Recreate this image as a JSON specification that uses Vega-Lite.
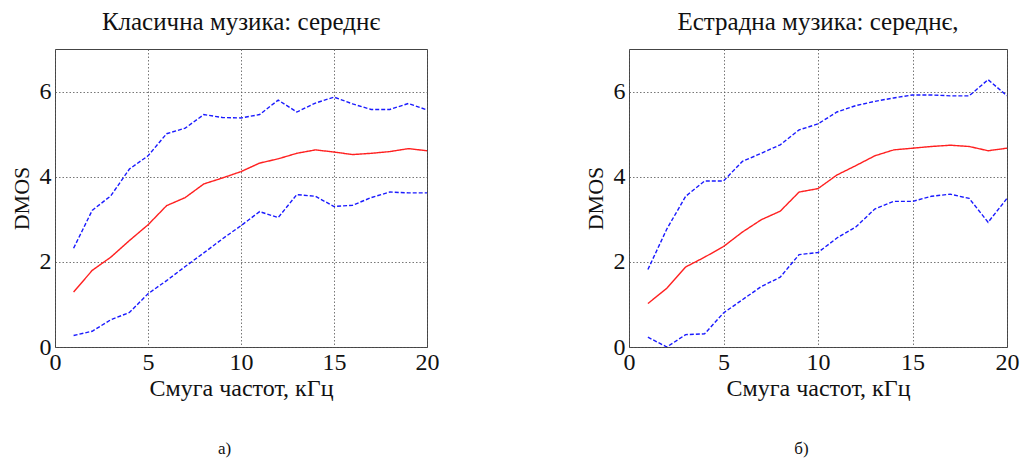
{
  "$schema": "https://vega.github.io/schema/vega-lite/v6.json",
  "background": "white",
  "padding": {"left": 9, "top": 9, "right": 0, "bottom": 3},
  "config": {
    "font": "Liberation Serif",
    "view": {"stroke": "#444444", "strokeWidth": 1},
    "axis": {
      "grid": true, "gridColor": "#555555", "gridDash": [1.5, 2], "gridOpacity": 0.8, "gridWidth": 1,
      "domain": false, "ticks": false, "labelFlush": false,
      "labelFont": "Liberation Serif", "labelFontSize": 24, "labelColor": "#111111",
      "titleFont": "Liberation Serif", "titleFontSize": 24, "titleFontWeight": "normal", "titleColor": "#111111"
    },
    "title": {"font": "Liberation Serif", "fontSize": 25, "fontWeight": "normal", "color": "#111111", "anchor": "middle"},
    "concat": {"spacing": 143}
  },
  "datasets": {
    "d": [
      {"panel": "a", "series": "upper", "x": 1, "y": 2.32}, {"panel": "a", "series": "upper", "x": 2, "y": 3.21}, {"panel": "a", "series": "upper", "x": 3, "y": 3.55}, {"panel": "a", "series": "upper", "x": 4, "y": 4.18}, {"panel": "a", "series": "upper", "x": 5, "y": 4.49}, {"panel": "a", "series": "upper", "x": 6, "y": 5.01}, {"panel": "a", "series": "upper", "x": 7, "y": 5.14}, {"panel": "a", "series": "upper", "x": 8, "y": 5.46}, {"panel": "a", "series": "upper", "x": 9, "y": 5.39}, {"panel": "a", "series": "upper", "x": 10, "y": 5.38}, {"panel": "a", "series": "upper", "x": 11, "y": 5.46}, {"panel": "a", "series": "upper", "x": 12, "y": 5.80}, {"panel": "a", "series": "upper", "x": 13, "y": 5.52}, {"panel": "a", "series": "upper", "x": 14, "y": 5.73}, {"panel": "a", "series": "upper", "x": 15, "y": 5.87}, {"panel": "a", "series": "upper", "x": 16, "y": 5.71}, {"panel": "a", "series": "upper", "x": 17, "y": 5.58}, {"panel": "a", "series": "upper", "x": 18, "y": 5.58}, {"panel": "a", "series": "upper", "x": 19, "y": 5.72}, {"panel": "a", "series": "upper", "x": 20, "y": 5.57},
      {"panel": "a", "series": "mean", "x": 1, "y": 1.29}, {"panel": "a", "series": "mean", "x": 2, "y": 1.80}, {"panel": "a", "series": "mean", "x": 3, "y": 2.11}, {"panel": "a", "series": "mean", "x": 4, "y": 2.50}, {"panel": "a", "series": "mean", "x": 5, "y": 2.87}, {"panel": "a", "series": "mean", "x": 6, "y": 3.32}, {"panel": "a", "series": "mean", "x": 7, "y": 3.51}, {"panel": "a", "series": "mean", "x": 8, "y": 3.83}, {"panel": "a", "series": "mean", "x": 9, "y": 3.97}, {"panel": "a", "series": "mean", "x": 10, "y": 4.12}, {"panel": "a", "series": "mean", "x": 11, "y": 4.32}, {"panel": "a", "series": "mean", "x": 12, "y": 4.42}, {"panel": "a", "series": "mean", "x": 13, "y": 4.55}, {"panel": "a", "series": "mean", "x": 14, "y": 4.63}, {"panel": "a", "series": "mean", "x": 15, "y": 4.58}, {"panel": "a", "series": "mean", "x": 16, "y": 4.52}, {"panel": "a", "series": "mean", "x": 17, "y": 4.55}, {"panel": "a", "series": "mean", "x": 18, "y": 4.59}, {"panel": "a", "series": "mean", "x": 19, "y": 4.66}, {"panel": "a", "series": "mean", "x": 20, "y": 4.61},
      {"panel": "a", "series": "lower", "x": 1, "y": 0.27}, {"panel": "a", "series": "lower", "x": 2, "y": 0.37}, {"panel": "a", "series": "lower", "x": 3, "y": 0.64}, {"panel": "a", "series": "lower", "x": 4, "y": 0.81}, {"panel": "a", "series": "lower", "x": 5, "y": 1.25}, {"panel": "a", "series": "lower", "x": 6, "y": 1.56}, {"panel": "a", "series": "lower", "x": 7, "y": 1.89}, {"panel": "a", "series": "lower", "x": 8, "y": 2.21}, {"panel": "a", "series": "lower", "x": 9, "y": 2.54}, {"panel": "a", "series": "lower", "x": 10, "y": 2.85}, {"panel": "a", "series": "lower", "x": 11, "y": 3.18}, {"panel": "a", "series": "lower", "x": 12, "y": 3.04}, {"panel": "a", "series": "lower", "x": 13, "y": 3.58}, {"panel": "a", "series": "lower", "x": 14, "y": 3.54}, {"panel": "a", "series": "lower", "x": 15, "y": 3.30}, {"panel": "a", "series": "lower", "x": 16, "y": 3.33}, {"panel": "a", "series": "lower", "x": 17, "y": 3.51}, {"panel": "a", "series": "lower", "x": 18, "y": 3.64}, {"panel": "a", "series": "lower", "x": 19, "y": 3.62}, {"panel": "a", "series": "lower", "x": 20, "y": 3.62},
      {"panel": "b", "series": "upper", "x": 1, "y": 1.82}, {"panel": "b", "series": "upper", "x": 2, "y": 2.77}, {"panel": "b", "series": "upper", "x": 3, "y": 3.54}, {"panel": "b", "series": "upper", "x": 4, "y": 3.90}, {"panel": "b", "series": "upper", "x": 5, "y": 3.90}, {"panel": "b", "series": "upper", "x": 6, "y": 4.36}, {"panel": "b", "series": "upper", "x": 7, "y": 4.55}, {"panel": "b", "series": "upper", "x": 8, "y": 4.75}, {"panel": "b", "series": "upper", "x": 9, "y": 5.10}, {"panel": "b", "series": "upper", "x": 10, "y": 5.24}, {"panel": "b", "series": "upper", "x": 11, "y": 5.52}, {"panel": "b", "series": "upper", "x": 12, "y": 5.67}, {"panel": "b", "series": "upper", "x": 13, "y": 5.77}, {"panel": "b", "series": "upper", "x": 14, "y": 5.85}, {"panel": "b", "series": "upper", "x": 15, "y": 5.92}, {"panel": "b", "series": "upper", "x": 16, "y": 5.92}, {"panel": "b", "series": "upper", "x": 17, "y": 5.90}, {"panel": "b", "series": "upper", "x": 18, "y": 5.90}, {"panel": "b", "series": "upper", "x": 19, "y": 6.28}, {"panel": "b", "series": "upper", "x": 20, "y": 5.90},
      {"panel": "b", "series": "mean", "x": 1, "y": 1.02}, {"panel": "b", "series": "mean", "x": 2, "y": 1.38}, {"panel": "b", "series": "mean", "x": 3, "y": 1.88}, {"panel": "b", "series": "mean", "x": 4, "y": 2.11}, {"panel": "b", "series": "mean", "x": 5, "y": 2.36}, {"panel": "b", "series": "mean", "x": 6, "y": 2.70}, {"panel": "b", "series": "mean", "x": 7, "y": 2.99}, {"panel": "b", "series": "mean", "x": 8, "y": 3.19}, {"panel": "b", "series": "mean", "x": 9, "y": 3.64}, {"panel": "b", "series": "mean", "x": 10, "y": 3.72}, {"panel": "b", "series": "mean", "x": 11, "y": 4.04}, {"panel": "b", "series": "mean", "x": 12, "y": 4.26}, {"panel": "b", "series": "mean", "x": 13, "y": 4.49}, {"panel": "b", "series": "mean", "x": 14, "y": 4.63}, {"panel": "b", "series": "mean", "x": 15, "y": 4.67}, {"panel": "b", "series": "mean", "x": 16, "y": 4.71}, {"panel": "b", "series": "mean", "x": 17, "y": 4.74}, {"panel": "b", "series": "mean", "x": 18, "y": 4.71}, {"panel": "b", "series": "mean", "x": 19, "y": 4.61}, {"panel": "b", "series": "mean", "x": 20, "y": 4.67},
      {"panel": "b", "series": "lower", "x": 1, "y": 0.23}, {"panel": "b", "series": "lower", "x": 2, "y": 0.0}, {"panel": "b", "series": "lower", "x": 3, "y": 0.29}, {"panel": "b", "series": "lower", "x": 4, "y": 0.31}, {"panel": "b", "series": "lower", "x": 5, "y": 0.80}, {"panel": "b", "series": "lower", "x": 6, "y": 1.11}, {"panel": "b", "series": "lower", "x": 7, "y": 1.42}, {"panel": "b", "series": "lower", "x": 8, "y": 1.64}, {"panel": "b", "series": "lower", "x": 9, "y": 2.17}, {"panel": "b", "series": "lower", "x": 10, "y": 2.22}, {"panel": "b", "series": "lower", "x": 11, "y": 2.56}, {"panel": "b", "series": "lower", "x": 12, "y": 2.82}, {"panel": "b", "series": "lower", "x": 13, "y": 3.24}, {"panel": "b", "series": "lower", "x": 14, "y": 3.42}, {"panel": "b", "series": "lower", "x": 15, "y": 3.42}, {"panel": "b", "series": "lower", "x": 16, "y": 3.54}, {"panel": "b", "series": "lower", "x": 17, "y": 3.59}, {"panel": "b", "series": "lower", "x": 18, "y": 3.49}, {"panel": "b", "series": "lower", "x": 19, "y": 2.93}, {"panel": "b", "series": "lower", "x": 20, "y": 3.49}
    ]
  },
  "hconcat": [
    {
      "title": {"text": "а)", "orient": "bottom", "fontSize": 17, "offset": 40},
      "vconcat": [
        {
          "title": {"text": "Класична музика: середнє", "offset": 14},
          "width": 372, "height": 298,
          "data": {"name": "d"},
          "transform": [{"filter": "datum.panel === 'a'"}],
          "mark": {"type": "line", "strokeWidth": 1.4, "clip": true},
          "encoding": {
            "x": {"field": "x", "type": "quantitative", "scale": {"domain": [0, 20], "nice": false}, "axis": {"values": [0, 5, 10, 15, 20], "title": "Смуга частот, кГц", "labelPadding": 3, "titlePadding": 2}},
            "y": {"field": "y", "type": "quantitative", "scale": {"domain": [0, 7], "nice": false}, "axis": {"values": [0, 2, 4, 6], "title": "DMOS", "labelPadding": 4, "titlePadding": 6, "titleFontSize": 22}},
            "detail": {"field": "series"},
            "color": {"field": "series", "type": "nominal", "scale": {"domain": ["upper", "mean", "lower"], "range": ["#1a1aff", "#ff2020", "#1a1aff"]}, "legend": null},
            "strokeDash": {"field": "series", "type": "nominal", "scale": {"domain": ["upper", "mean", "lower"], "range": [[4, 2], [1, 0], [4, 2]]}, "legend": null}
          }
        }
      ]
    },
    {
      "title": {"text": "б)", "orient": "bottom", "fontSize": 17, "offset": 40},
      "vconcat": [
        {
          "title": {"text": "Естрадна музика: середнє,", "offset": 14},
          "width": 378, "height": 298,
          "data": {"name": "d"},
          "transform": [{"filter": "datum.panel === 'b'"}],
          "mark": {"type": "line", "strokeWidth": 1.4, "clip": true},
          "encoding": {
            "x": {"field": "x", "type": "quantitative", "scale": {"domain": [0, 20], "nice": false}, "axis": {"values": [0, 5, 10, 15, 20], "title": "Смуга частот, кГц", "labelPadding": 3, "titlePadding": 2}},
            "y": {"field": "y", "type": "quantitative", "scale": {"domain": [0, 7], "nice": false}, "axis": {"values": [0, 2, 4, 6], "title": "DMOS", "labelPadding": 4, "titlePadding": 6, "titleFontSize": 22}},
            "detail": {"field": "series"},
            "color": {"field": "series", "type": "nominal", "scale": {"domain": ["upper", "mean", "lower"], "range": ["#1a1aff", "#ff2020", "#1a1aff"]}, "legend": null},
            "strokeDash": {"field": "series", "type": "nominal", "scale": {"domain": ["upper", "mean", "lower"], "range": [[4, 2], [1, 0], [4, 2]]}, "legend": null}
          }
        }
      ]
    }
  ]
}
